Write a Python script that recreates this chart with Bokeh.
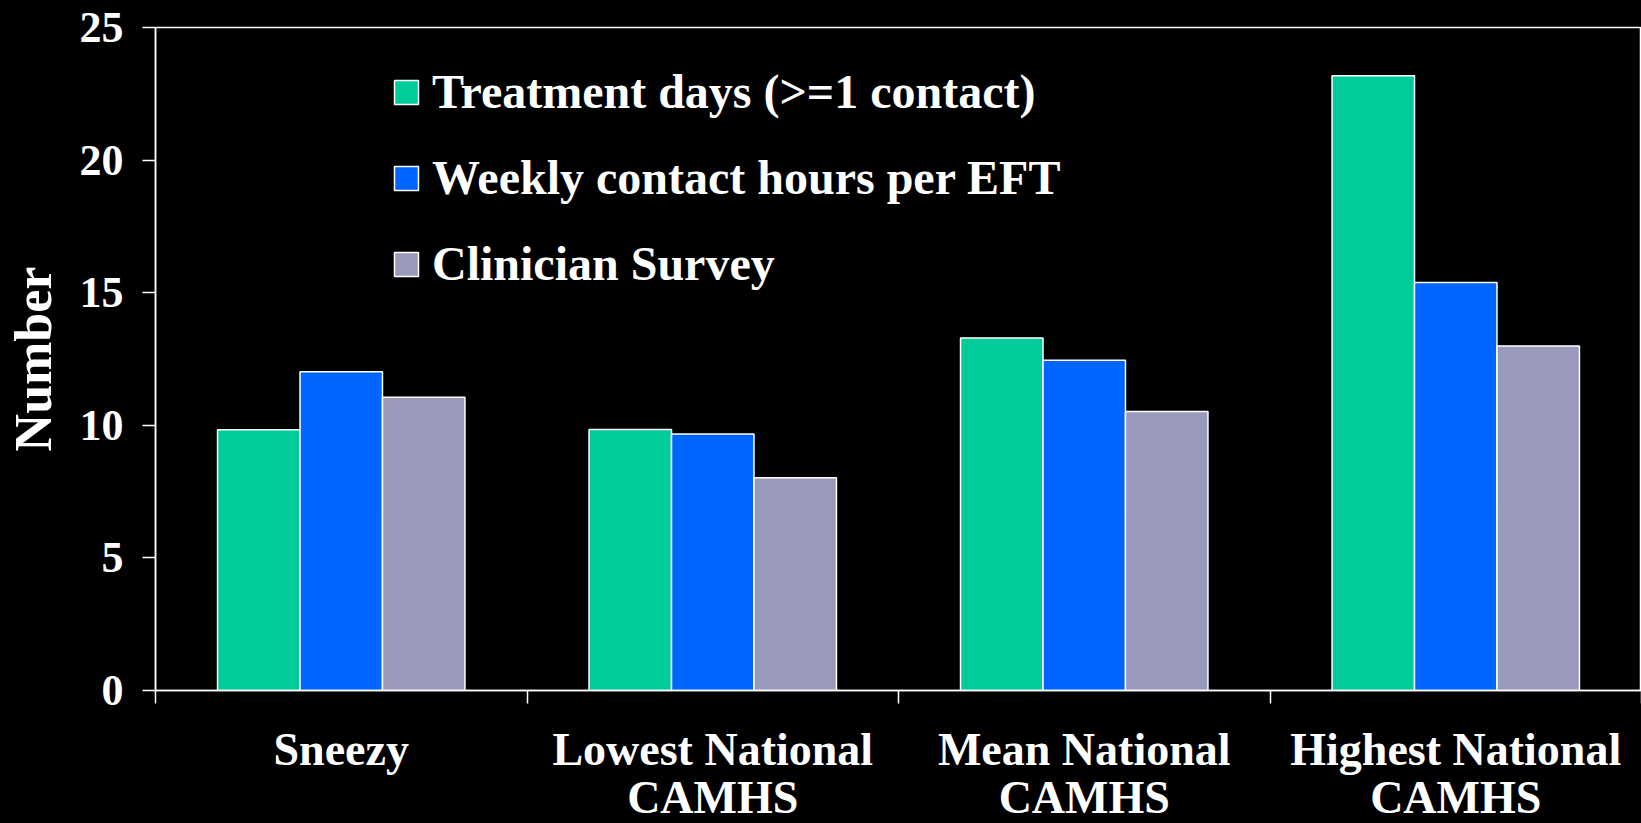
from bokeh.plotting import figure
from bokeh.models import (Range1d, FixedTicker, Legend, LegendItem, ColumnDataSource,
                          GlobalInlineStyleSheet)
from bokeh.transform import dodge
from bokeh.embed import file_html
from bokeh.resources import INLINE

# ---- data ----
categories = ["Sneezy", "Lowest National\nCAMHS", "Mean National\nCAMHS", "Highest National\nCAMHS"]
series_names = ["Treatment days (>=1 contact)", "Weekly contact hours per EFT", "Clinician Survey"]
treatment_days = [9.83, 9.84, 13.29, 23.18]
weekly_hours = [12.02, 9.67, 12.45, 15.38]
clinician_survey = [11.06, 8.02, 10.52, 12.99]
y_ticks = [0, 5, 10, 15, 20, 25]

colors = ["#00CC99", "#0066FF", "#9999BB"]
FONT = "Liberation Serif"

xc = [i + 0.5 for i in range(len(categories))]
src = ColumnDataSource(dict(xc=xc, t=treatment_days, w=weekly_hours, s=clinician_survey))

p = figure(frame_width=1486, frame_height=663, output_backend="svg", toolbar_location=None,
           x_range=Range1d(0, len(categories)), y_range=Range1d(0, 25),
           background_fill_color="black", border_fill_color="black",
           min_border_left=155, min_border_top=27, min_border_right=0, min_border_bottom=133,
           outline_line_color="white", outline_line_width=1.5)
p.stylesheets = [GlobalInlineStyleSheet(css="html, body { background: #000000; }")]
p.grid.visible = False

bw = 0.222
fields = ["t", "w", "s"]
offsets = [-bw, 0.0, bw]
renderers = []
for f, off, c in zip(fields, offsets, colors):
    r = p.vbar(x=dodge("xc", off), top=f, width=bw, bottom=0, source=src,
               fill_color=c, line_color="white", line_width=1.5)
    renderers.append(r)

# x axis: labels at centers, ticks at boundaries (minor ticks)
xa = p.xaxis[0]
xa.ticker = FixedTicker(ticks=xc, minor_ticks=list(range(len(categories) + 1)))
xa.major_label_overrides = {v: lab for v, lab in zip(xc, categories)}
xa.major_tick_out = 0
xa.major_tick_in = 0
xa.minor_tick_out = 13
xa.minor_tick_in = 0
xa.minor_tick_line_color = "white"
xa.minor_tick_line_width = 1.5
xa.axis_line_color = "white"
xa.axis_line_width = 1.5
xa.major_label_text_color = "white"
xa.major_label_text_font = FONT
xa.major_label_text_font_style = "bold"
xa.major_label_text_font_size = "46px"
xa.major_label_text_line_height = 0.95
xa.major_label_standoff = 20

ya = p.yaxis[0]
ya.ticker = FixedTicker(ticks=y_ticks)
ya.major_tick_out = 13
ya.major_tick_in = 0
ya.minor_tick_line_color = None
ya.major_tick_line_color = "white"
ya.major_tick_line_width = 1.5
ya.axis_line_color = "white"
ya.axis_line_width = 1.5
ya.major_label_text_color = "white"
ya.major_label_text_font = FONT
ya.major_label_text_font_style = "bold"
ya.major_label_text_font_size = "44px"
ya.major_label_standoff = 19
ya.axis_label = "Number"
ya.axis_label_text_color = "white"
ya.axis_label_text_font = FONT
ya.axis_label_text_font_style = "bold"
ya.axis_label_text_font_size = "52px"
ya.axis_label_standoff = 15

legend = Legend(items=[LegendItem(label=n, renderers=[r]) for n, r in zip(series_names, renderers)],
                location=(236, 399), glyph_width=30, glyph_height=30,
                label_standoff=11, spacing=31, padding=0, margin=0,
                label_text_color="white", label_text_font=FONT, label_text_font_style="bold",
                label_text_font_size="48px",
                background_fill_alpha=0, border_line_alpha=0)
p.add_layout(legend)

open("out.html", "w").write(file_html(p, INLINE))
